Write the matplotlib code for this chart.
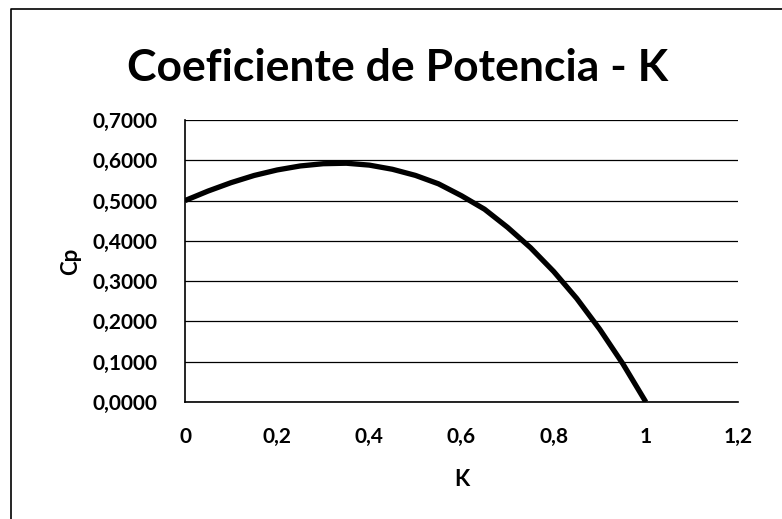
import matplotlib
matplotlib.use("Agg")
import matplotlib.pyplot as plt
from matplotlib.lines import Line2D
from matplotlib.ticker import FuncFormatter

# values
k_vals = [0.0, 0.05, 0.10, 0.15, 0.20, 0.25, 0.30, 0.35, 0.40, 0.45, 0.50,
          0.55, 0.60, 0.65, 0.70, 0.75, 0.80, 0.85, 0.90, 0.95, 1.0]
cp_vals = [0.500, 0.5236, 0.5445, 0.5623, 0.5760, 0.5859, 0.5915, 0.5927, 0.5880,
           0.5777, 0.5625, 0.5416, 0.5120, 0.4785, 0.4335, 0.3828, 0.3240,
           0.2571, 0.1805, 0.0951, 0.0]
x_ticks = [0, 0.2, 0.4, 0.6, 0.8, 1.0, 1.2]
y_ticks = [0, 0.1, 0.2, 0.3, 0.4, 0.5, 0.6, 0.7]

plt.rcParams['font.family'] = ['Lato', 'DejaVu Sans']

W, H = 782, 519
fig = plt.figure(figsize=(W / 100, H / 100), dpi=100)
ax = fig.add_axes([185 / W, 1 - 402 / H, (738 - 185) / W, (402 - 120) / H])

ax.plot(k_vals, cp_vals, color='black', lw=3.8, solid_capstyle='butt')

ax.set_xlim(0, 1.2)
ax.set_ylim(0, 0.7)
ax.set_xticks(x_ticks)
ax.set_yticks(y_ticks)

def comma(fmt):
  return FuncFormatter(lambda v, p: fmt(v).replace('.', ','))

ax.xaxis.set_major_formatter(comma(lambda v: ('%g' % round(v, 1))))
ax.yaxis.set_major_formatter(comma(lambda v: '%.4f' % v))

ax.grid(axis='y', color='black', lw=0.9)
ax.set_axisbelow(True)
for s in ['top', 'right']:
  ax.spines[s].set_visible(False)
for s in ['left', 'bottom']:
  ax.spines[s].set_color('black')
  ax.spines[s].set_linewidth(1.2)

ax.tick_params(axis='both', length=0, labelsize=15)
for lbl in ax.get_xticklabels() + ax.get_yticklabels():
  lbl.set_fontweight('bold')
ax.tick_params(axis='y', pad=20)
ax.tick_params(axis='x', pad=18)

ax.set_xlabel('K', fontsize=16, fontweight='bold', labelpad=16)
ax.set_ylabel('Cp', fontsize=16, fontweight='bold', labelpad=8)

fig.text(398 / W, 1 - 68 / H, 'Coeficiente de Potencia - K', fontsize=32,
         fontweight='bold', ha='center', va='center')

# outer frame (left and top only)
fig.add_artist(Line2D([11 / W, 11 / W, 1], [0, 1 - 9 / H, 1 - 9 / H],
                      transform=fig.transFigure, color='black', lw=1.2))

plt.savefig('out.png', dpi=100)
